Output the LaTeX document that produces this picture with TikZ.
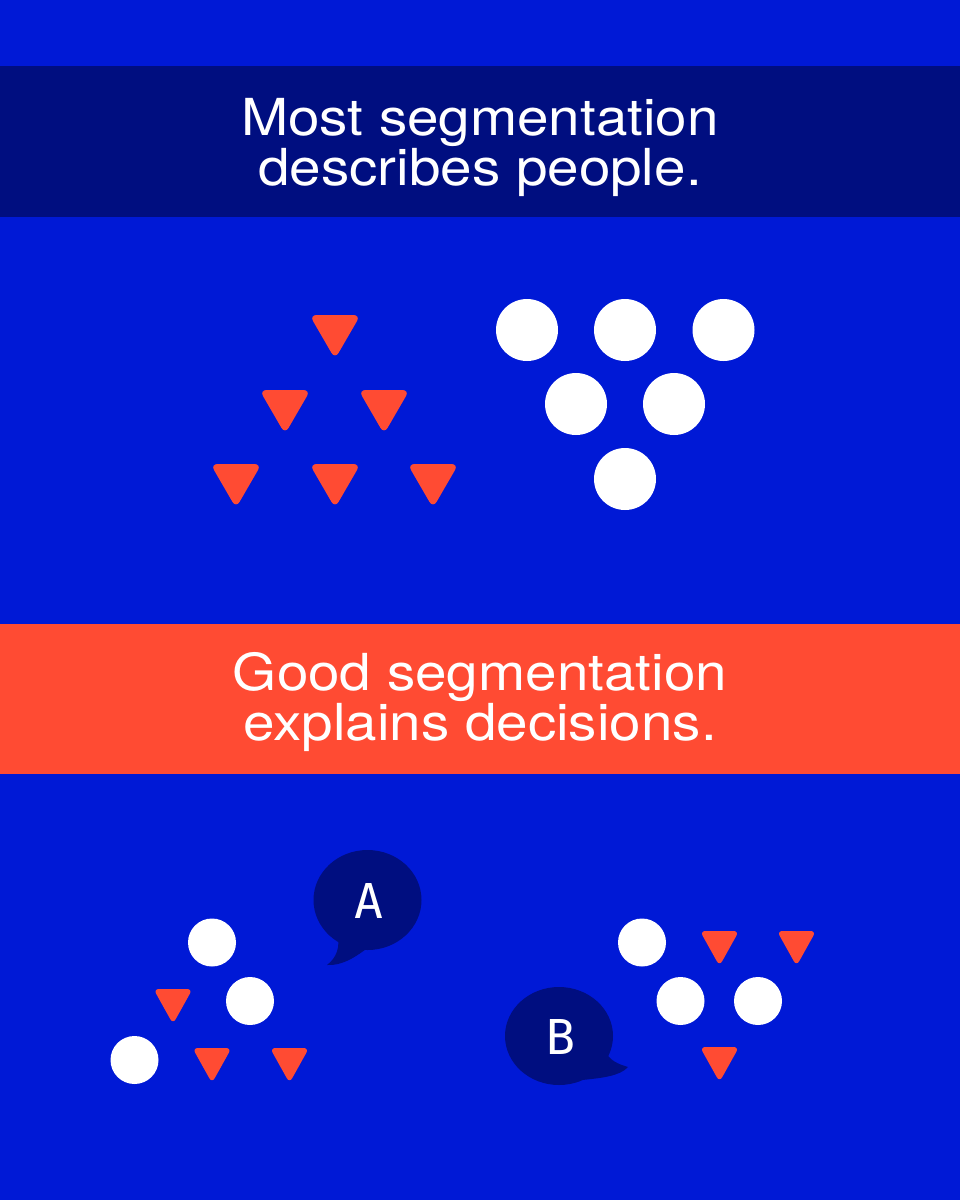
\documentclass[tikz,border=0pt]{standalone}
\usepackage{fontspec}
\setmainfont{TeX Gyre Heros}[FakeStretch=1.11]
\newfontfamily\monofnt{DejaVu Sans Mono}
\definecolor{bgblue}{HTML}{0019D6}
\definecolor{navy}{HTML}{000E80}
\definecolor{tomato}{HTML}{FF4B33}
\newcommand\dtri[5]{% name, x, ytop, halfwidth, height
  \fill[tomato, rounded corners=#4*0.28] (#2-#4,#3) -- (#2+#4,#3) -- (#2,#3+#5) -- cycle;
  \coordinate (#1) at (#2,#3+#5*0.4);}
\begin{document}
\begin{tikzpicture}[x=1bp,y=-1bp,
  dot/.style={circle, fill=white, inner sep=0pt, minimum size=#1},
  title/.style={text=white, align=center, font=\fontsize{51bp}{50bp}\selectfont},
  bubble/.style={fill=navy},
  letter/.style={text=white, font=\monofnt\fontsize{48bp}{48bp}\selectfont, inner sep=0pt}]
\useasboundingbox (0,0) rectangle (960,1200);
\fill[bgblue] (0,0) rectangle (960,1200);
% banners
\fill[navy] (0,66) rectangle (960,217);
\fill[tomato] (0,624) rectangle (960,774);
\node[title] (t1) at (480,147) {Most segmentation\\describes people.};
\node[title] (t2) at (480,702) {Good segmentation\\explains decisions.};
% top triangles
\dtri{ta}{335}{315}{25.5}{44}
\dtri{tb}{285}{390}{25.5}{44}
\dtri{tc}{384}{390}{25.5}{44}
\dtri{td}{236}{464}{25.5}{44}
\dtri{te}{335}{464}{25.5}{44}
\dtri{tf}{433}{464}{25.5}{44}
% top circles
\node[dot=62bp] (ca) at (527,330) {};
\node[dot=62bp] (cb) at (625,330) {};
\node[dot=62bp] (cc) at (723.5,330) {};
\node[dot=62bp] (cd) at (576,404) {};
\node[dot=62bp] (ce) at (674,404) {};
\node[dot=62bp] (cf) at (625,479) {};
% bubble A
\fill[bubble] (367.5,900) ellipse [x radius=54, y radius=50];
\fill[bubble] (337,932) .. controls (341,948) and (336,958) .. (327,965)
  .. controls (342,966) and (356,957) .. (370,946) -- cycle;
\node[letter] (la) at (369,901) {A};
% bubble B
\fill[bubble] (559,1036) ellipse [x radius=54, y radius=49];
\fill[bubble] (604,1050) .. controls (610,1061) and (618,1064) .. (628,1067)
  .. controls (620,1076) and (602,1078) .. (582,1080) -- cycle;
\node[letter] (lb) at (561,1037) {B};
% bottom-left group
\node[dot=48bp] (da) at (212,942.5) {};
\node[dot=48bp] (db) at (250,1001) {};
\node[dot=48bp] (dc) at (134.5,1060) {};
\dtri{ua}{173}{989}{19.5}{35}
\dtri{ub}{212}{1048}{19.5}{35}
\dtri{uc}{289.5}{1048}{19.5}{35}
% bottom-right group
\node[dot=48bp] (ea) at (642,942.5) {};
\node[dot=48bp] (eb) at (680.5,1001) {};
\node[dot=48bp] (ec) at (758,1001) {};
\dtri{va}{719.5}{931}{19.5}{35}
\dtri{vb}{796.5}{931}{19.5}{35}
\dtri{vc}{719.5}{1047}{19.5}{35}
\end{tikzpicture}
\end{document}
